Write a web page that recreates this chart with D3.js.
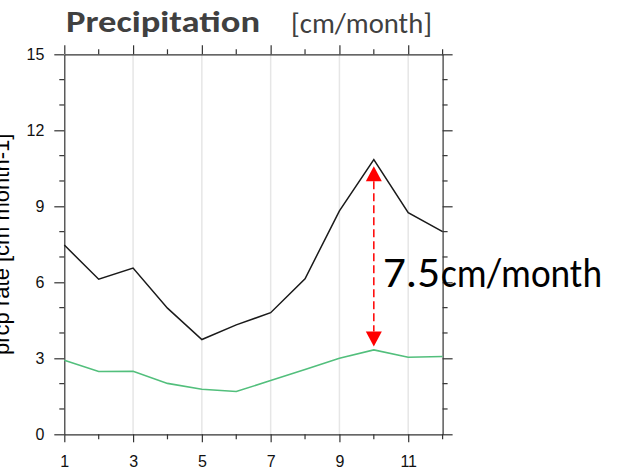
<!DOCTYPE html>
<html><head><meta charset="utf-8">
<script src="https://cdn.jsdelivr.net/npm/d3@7"></script>
<style>body{margin:0;background:#fff;} svg{display:block;}</style>
</head><body>
<svg id="c" width="617" height="473"></svg>
<script>
const months = [1,2,3,4,5,6,7,8,9,10,11,12];
const seriesBlack = [7.47,6.12,6.56,4.98,3.74,4.32,4.80,6.14,8.82,10.84,8.75,8.00];
const seriesGreen = [2.92,2.48,2.49,2.01,1.78,1.69,2.12,2.56,3.00,3.33,3.04,3.07];
const xTickLabels = [1,3,5,7,9,11];
const yTickLabels = [0,3,6,9,12,15];
const diffMonth = 10;
const diffLabelNum = "7.5";
const diffLabelUnit = "cm/month";

const svg = d3.select("#c");
const x = d3.scaleLinear().domain([1,12]).range([64.3,442.6]);
const y = d3.scaleLinear().domain([0,15]).range([434.3,54.3]);
const axisColor = "#333";

// gridlines
svg.append("g").selectAll("line").data(xTickLabels.slice(1)).join("line")
  .attr("x1",d=>x(d)).attr("x2",d=>x(d)).attr("y1",y(15)).attr("y2",y(0))
  .attr("stroke","#e6e6e6").attr("stroke-width",1.5);

const fontTick = "Liberation Sans, Arial, sans-serif";
function styleAxis(g){
  g.select(".domain").attr("stroke",axisColor).attr("stroke-width",1.2);
  g.selectAll(".tick line").attr("stroke",axisColor).attr("stroke-width",1.2);
  g.selectAll("text").attr("font-family",fontTick).attr("font-size",16).attr("fill","#111");
}
const minorX = months.filter(m=>m%2===0);
const minorY = d3.range(0,16).filter(v=>v%3!==0);

const gB = svg.append("g").attr("transform",`translate(0,${y(0)})`)
  .call(d3.axisBottom(x).tickValues(xTickLabels).tickSize(8).tickPadding(13.5).tickSizeOuter(0).tickFormat(d3.format("d")));
styleAxis(gB);
gB.selectAll(".tickm").data(minorX).join("line").attr("x1",d=>x(d)).attr("x2",d=>x(d)).attr("y1",0).attr("y2",5).attr("stroke",axisColor).attr("stroke-width",1.2);
const gT = svg.append("g").attr("transform",`translate(0,${y(15)})`)
  .call(d3.axisTop(x).tickValues(xTickLabels).tickSize(9).tickSizeOuter(0).tickFormat(""));
styleAxis(gT);
gT.selectAll(".tickm").data(minorX).join("line").attr("x1",d=>x(d)).attr("x2",d=>x(d)).attr("y1",0).attr("y2",-5).attr("stroke",axisColor).attr("stroke-width",1.2);
const gL = svg.append("g").attr("transform",`translate(${x(1)},0)`)
  .call(d3.axisLeft(y).tickValues(yTickLabels).tickSize(10).tickPadding(10).tickSizeOuter(0).tickFormat(d3.format("d")));
styleAxis(gL);
gL.selectAll(".tickm").data(minorY).join("line").attr("x1",0).attr("x2",-5).attr("y1",d=>y(d)).attr("y2",d=>y(d)).attr("stroke",axisColor).attr("stroke-width",1.2);
const gR = svg.append("g").attr("transform",`translate(${x(12)},0)`)
  .call(d3.axisRight(y).tickValues(yTickLabels).tickSize(10).tickSizeOuter(0).tickFormat(""));
styleAxis(gR);
gR.selectAll(".tickm").data(minorY).join("line").attr("x1",0).attr("x2",5).attr("y1",d=>y(d)).attr("y2",d=>y(d)).attr("stroke",axisColor).attr("stroke-width",1.2);

// lines
const line = d3.line().x((d,i)=>x(months[i])).y(d=>y(d));
svg.append("path").datum(seriesGreen).attr("d",line).attr("fill","none").attr("stroke","#52bf7c").attr("stroke-width",1.6);
svg.append("path").datum(seriesBlack).attr("d",line).attr("fill","none").attr("stroke","#1a1a1a").attr("stroke-width",1.5);

// arrow
const i10 = months.indexOf(diffMonth);
const ax = x(diffMonth);
const yTop = y(seriesBlack[i10]) + 6.5;
const yBot = y(seriesGreen[i10]) - 3.5;
const headH = 15, headW = 16;
svg.append("line").attr("x1",ax).attr("x2",ax).attr("y1",yTop+headH).attr("y2",yBot-headH)
  .attr("stroke","#ff0000").attr("stroke-width",1.5).attr("stroke-dasharray","8,4");
svg.append("path").attr("d",`M${ax},${yTop} L${ax-headW/2},${yTop+headH} L${ax+headW/2},${yTop+headH} Z`).attr("fill","#ff0000");
svg.append("path").attr("d",`M${ax},${yBot} L${ax-headW/2},${yBot-headH} L${ax+headW/2},${yBot-headH} Z`).attr("fill","#ff0000");

// annotation
const annFont = "Carlito, Lato, 'Open Sans', sans-serif";
svg.append("text").attr("x",383).attr("y",287).attr("font-family",annFont).attr("font-size",44).attr("fill","#000")
  .attr("textLength",57).attr("lengthAdjust","spacingAndGlyphs").text(diffLabelNum);
svg.append("text").attr("x",441).attr("y",287).attr("font-family",annFont).attr("font-size",40).attr("fill","#000")
  .attr("textLength",161).attr("lengthAdjust","spacingAndGlyphs").text(diffLabelUnit);

// title
svg.append("text").attr("x",66).attr("y",32).attr("font-family","Carlito, Lato, sans-serif").attr("font-weight","bold").attr("font-size",30).attr("fill","#404040")
  .attr("textLength",194).attr("lengthAdjust","spacingAndGlyphs").text("Precipitation");
svg.append("text").attr("x",291).attr("y",32.5).attr("font-family","Carlito, Lato, sans-serif").attr("font-size",28).attr("fill","#404040")
  .attr("textLength",141).attr("lengthAdjust","spacingAndGlyphs").text("[cm/month]");

// y label (clipped by the left edge, as in the reference)
svg.append("text").attr("transform",`translate(8.5,${(y(0)+y(15))/2}) rotate(-90)`).attr("text-anchor","middle")
  .attr("font-family",fontTick).attr("font-size",22).attr("fill","#000").text("prcp rate [cm month-1]");
</script>
</body></html>
